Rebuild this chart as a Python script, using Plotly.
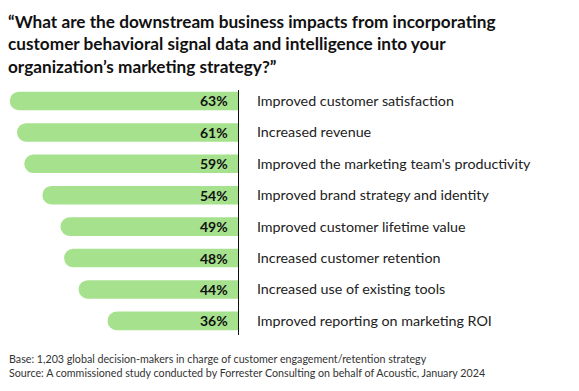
import plotly.graph_objects as go

categories = [
    "Improved customer satisfaction",
    "Increased revenue",
    "Improved the marketing team's productivity",
    "Improved brand strategy and identity",
    "Improved customer lifetime value",
    "Increased customer retention",
    "Increased use of existing tools",
    "Improved reporting on marketing ROI",
]
values = [63, 61, 59, 54, 49, 48, 44, 36]
value_labels = [f"{v}%" for v in values]

title_text = ("“What are the downstream business impacts from incorporating<br>"
              "customer behavioral signal data and intelligence into your<br>"
              "organization’s marketing strategy?”")
footnote = ("Base: 1,203 global decision-makers in charge of customer engagement/retention strategy<br>"
            "Source: A commissioned study conducted by Forrester Consulting on behalf of Acoustic, January 2024")

FONT = "Lato"
W, H = 579, 391
ML, MR, MT, MB = 0, 349, 82, 64

fig = go.Figure(go.Bar(
    x=values, y=categories, orientation="h",
    marker=dict(color="#A6E28D", line=dict(width=0)),
    hoverinfo="skip",
))

for c, lab in zip(categories, value_labels):
    fig.add_annotation(x=0, y=c, xref="x", yref="y", text=f"<b>{lab}</b>",
                       showarrow=False, xanchor="right", xshift=-8,
                       font=dict(family=FONT, size=14, color="#111111"))

fig.add_annotation(x=0, y=1, xref="paper", yref="paper", xanchor="left", yanchor="bottom",
                   xshift=-2, yshift=11, align="left", showarrow=False,
                   text=f"<b>{title_text}</b>",
                   font=dict(family=FONT, size=17.2, color="#111111"))
fig.add_annotation(x=0, y=0, xref="paper", yref="paper", xanchor="left", yanchor="top",
                   xshift=-1, yshift=-15, align="left", showarrow=False,
                   text=footnote,
                   font=dict(family=FONT, size=10.7, color="#333333"))

fig.update_layout(
    width=W, height=H,
    margin=dict(l=ML, r=MR, t=MT, b=MB),
    paper_bgcolor="white", plot_bgcolor="white",
    barcornerradius=9,
    bargap=0.41,
    showlegend=False,
    xaxis=dict(range=[63.5, 0], showgrid=False, zeroline=False, showticklabels=False,
               fixedrange=True),
    yaxis=dict(side="right", range=[7.45, -0.35], showgrid=False, zeroline=False,
               showline=True, linecolor="#111111", linewidth=1.2,
               ticks="", ticklabelstandoff=15,
               tickfont=dict(family=FONT, size=14.3, color="#222222")),
)

fig.write_html("out.html")
